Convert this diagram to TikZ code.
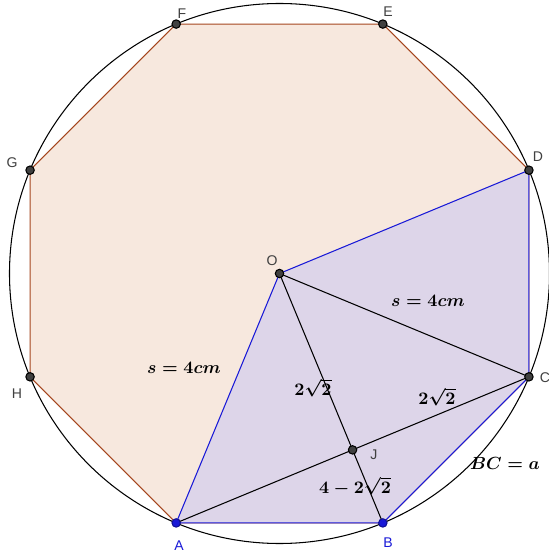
\documentclass[tikz,border=0pt]{standalone}
\usepackage{amsmath,amssymb}
\usepackage{fontspec}
\newfontfamily\ptfont{Liberation Sans}
\usetikzlibrary{positioning}
\definecolor{octfill}{RGB}{247,232,222}
\definecolor{octedge}{RGB}{165,70,30}
\definecolor{sectfill}{RGB}{221,213,233}
\definecolor{geoblue}{RGB}{25,25,215}

\begin{document}
\begin{tikzpicture}[
  line width=0.6pt,
  pt/.style={circle, fill=black!75, draw=black, inner sep=0pt, minimum size=4.8pt},
  bpt/.style={pt, fill=geoblue, draw=geoblue!70!black},
  lab/.style={font=\ptfont\footnotesize, text=black!75},
  blab/.style={lab, text=geoblue},
  mlab/.style={font=\boldmath}
]
\useasboundingbox (-5.59,-5.61) rectangle (5.39,5.47);
\coordinate (O) at (0,0);
\foreach \v/\ang in {A/-112.5,B/-67.5,C/-22.5,D/22.5,E/67.5,F/112.5,G/157.5,H/202.5}
  \coordinate (\v) at (\ang:5.4);
\draw (O) circle (5.4);
% octagon and the shaded part
\filldraw[octedge, fill=octfill] (A) -- (B) -- (C) -- (D) -- (E) -- (F) -- (G) -- (H) -- cycle;
\filldraw[fill=sectfill, draw=geoblue] (O) -- (A) -- (B) -- (C) -- (D) -- cycle;
\coordinate (J) at (intersection of O--B and A--C);
\draw (O) -- (B) (A) -- (C) (O) -- (C);
% points
\foreach \v in {O,C,D,E,F,G,H,J}
  \node[pt] (\v pt) at (\v) {};
\foreach \v in {A,B}
  \node[bpt] (\v pt) at (\v) {};
% point names
\node[lab] (Olab) at (-0.15,0.25) {O};
\node[blab] (Alab) at (-2.01,-5.45) {A};
\node[blab] (Blab) at (2.17,-5.39) {B};
\node[lab] (Clab) at (5.31,-2.09) {C};
\node[lab] (Dlab) at (5.17,2.33) {D};
\node[lab] (Elab) at (2.17,5.23) {E};
\node[lab] (Flab) at (-1.95,5.19) {F};
\node[lab] (Glab) at (-5.35,2.21) {G};
\node[lab] (Hlab) at (-5.25,-2.41) {H};
\node[lab] (Jlab) at (1.89,-3.63) {J};
% lengths
\node[mlab] (sOA) at (-1.91,-1.89) {$s=4cm$};
\node[mlab] (sOC) at (2.97,-0.55) {$s=4cm$};
\node[mlab] (OJlen) at (0.67,-2.29) {$2\sqrt{2}$};
\node[mlab] (JClen) at (3.15,-2.47) {$2\sqrt{2}$};
\node[mlab] (JBlen) at (1.51,-4.25) {$4-2\sqrt{2}$};
\node[mlab] (BClen) at (4.51,-3.79) {$BC=a$};
\end{tikzpicture}
\end{document}
